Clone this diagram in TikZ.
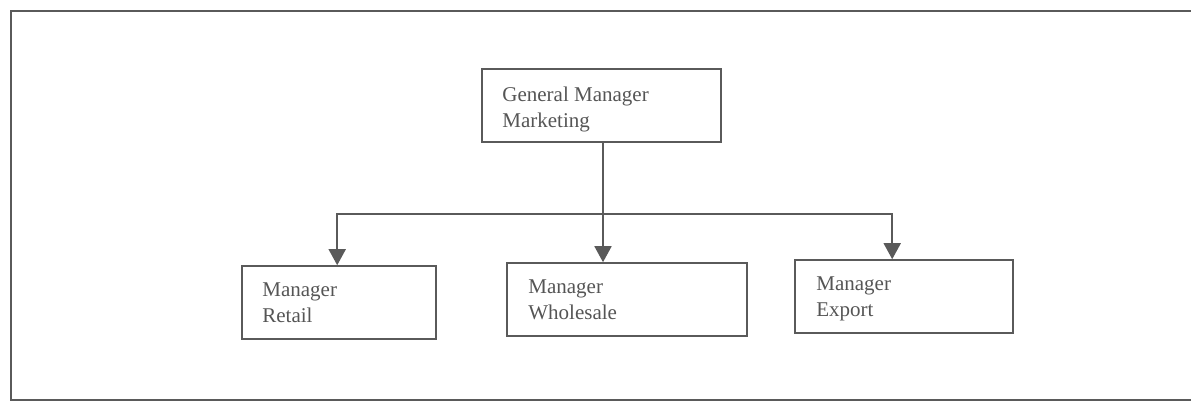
\documentclass[tikz,border=0pt]{standalone}
\usepackage{fontspec}
\setmainfont{Liberation Serif}
\usetikzlibrary{arrows.meta,calc}
\definecolor{ink}{HTML}{5A5A5A}
\definecolor{txtgray}{HTML}{555555}
\begin{document}
\begin{tikzpicture}[x=1pt,y=-1pt,
  box/.style={draw=ink,line width=1.6pt,rectangle,inner sep=0pt,minimum height=73pt},
  txt/.style={anchor=base west,inner sep=0pt,text=txtgray,font=\fontsize{21}{26}\selectfont},
  conn/.style={draw=ink,line width=1.8pt},
  arr/.style={conn,-{Triangle[length=16pt,width=17pt]}}]
\useasboundingbox (0,0) rectangle (1191,405);
% outer frame (right side runs off the page)
\draw[conn,line width=2pt] (1195,11) -- (11,11) -- (11,400) -- (1195,400);

% boxes
\node[box,minimum width=239pt] (gm)  at (601.5,105.5) {};
\node[box,minimum width=194pt] (ret) at (339,302.5) {};
\node[box,minimum width=240pt] (whs) at (627,299.5) {};
\node[box,minimum width=218pt] (exp) at (904,296.5) {};

% labels
\newcommand{\twolines}[2]{\begin{tabular}[t]{@{}l@{}}#1\\#2\end{tabular}}
\node[txt] (gmt)  at ($(gm.north west)+(21,33)$)  {\twolines{General Manager}{Marketing}};
\node[txt] (rett) at ($(ret.north west)+(21,31)$) {\twolines{Manager}{Retail}};
\node[txt] (whst) at ($(whs.north west)+(22,31)$) {\twolines{Manager}{Wholesale}};
\node[txt] (expt) at ($(exp.north west)+(22,31)$) {\twolines{Manager}{Export}};

% connectors
\coordinate (bus) at (603,214);
\coordinate (retin) at ($(ret.north west)+(96,0)$);
\coordinate (expin) at ($(exp.north west)+(98,0)$);
\draw[conn] (gm.south -| bus) -- (bus);
\draw[arr] (bus) -| (retin);
\draw[arr] (bus) -| (expin);
\draw[arr] (bus) -- (bus |- whs.north);
\end{tikzpicture}
\end{document}
